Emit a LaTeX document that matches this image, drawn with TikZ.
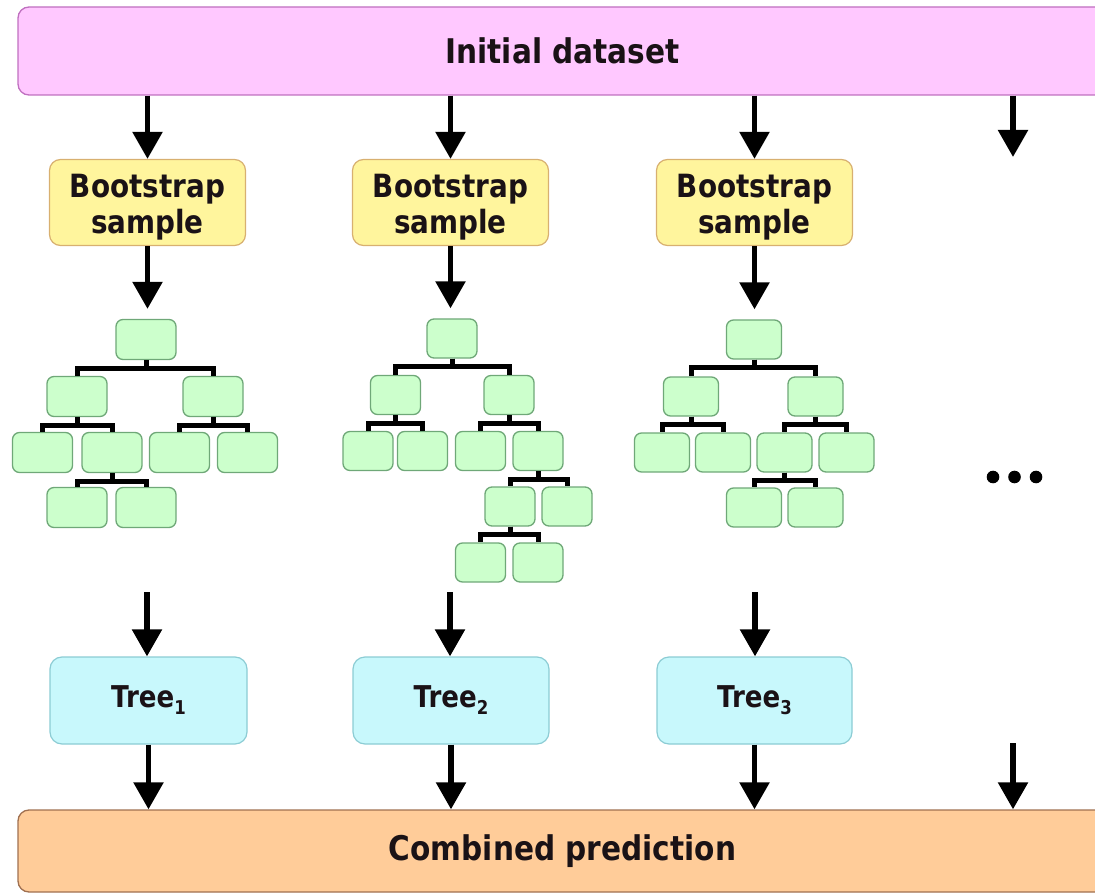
\documentclass[tikz,border=0pt]{standalone}
\usepackage{fontspec}
\newfontfamily\lab[FakeStretch=0.87]{DejaVu Sans Bold}
\usetikzlibrary{arrows.meta}

\definecolor{ink}{HTML}{1A1216}
\definecolor{pinkfill}{HTML}{FFC8FF}
\definecolor{pinkline}{HTML}{C070C0}
\definecolor{yelfill}{HTML}{FFF59D}
\definecolor{yelline}{HTML}{D8B070}
\definecolor{grnfill}{HTML}{CCFFCC}
\definecolor{grnline}{HTML}{6FA878}
\definecolor{cyanfill}{HTML}{C8F8FC}
\definecolor{cyanline}{HTML}{8CCCD4}
\definecolor{orgfill}{HTML}{FFCC99}
\definecolor{orgline}{HTML}{A07050}

% parent -> two children, drawn as an elbow bracket
\newcommand\treesplit[3]{%
  \draw[link] (#1.south) -- ++(0,8) -| (#2.north);
  \draw[link] (#1.south) -- ++(0,8) -| (#3.north);}
\newcommand\sub[1]{\raisebox{-7pt}{\fontsize{19}{19}\selectfont #1}}
\newcommand\bootlabel{\rule{0pt}{32pt}Bootstrap\\sample}

\begin{document}
\begin{tikzpicture}[x=1pt,y=-1pt,
  bar/.style={rounded corners=11pt, line width=1.3pt, minimum width=1089pt,
    inner sep=0pt, text=ink, font={\lab\fontsize{34}{40}\selectfont}},
  bootbox/.style={draw=yelline, fill=yelfill, rounded corners=11pt, line width=1.2pt,
    minimum width=196pt, minimum height=86pt, inner sep=0pt, align=center,
    text=ink, font={\lab\fontsize{32}{36}\selectfont}},
  treebox/.style={draw=cyanline, fill=cyanfill, rounded corners=12pt, line width=1.2pt,
    minimum height=87pt, inner sep=0pt, text=ink,
    font={\lab\fontsize{30}{34}\selectfont}},
  leaf/.style={draw=grnline, fill=grnfill, rounded corners=7pt, line width=1.3pt,
    inner sep=0pt},
  lA/.style={leaf, minimum width=60pt, minimum height=40pt},
  lB/.style={leaf, minimum width=50pt, minimum height=39pt},
  lC/.style={leaf, minimum width=55pt, minimum height=39pt},
  link/.style={line width=5pt, draw=black},
  arr/.style={line width=5.5pt, draw=black, -{Triangle[width=29pt,length=27pt]}},
  dot/.style={fill=black}
]
\useasboundingbox (0,0) rectangle (1095,893);
\clip (0,0) rectangle (1095,893);

% input and output bars
\node[bar, draw=pinkline, fill=pinkfill, minimum height=88pt] (top) at (562.5,51) {Initial dataset};
\node[bar, draw=orgline, fill=orgfill, minimum height=82pt] (bot) at (562.5,851) {Combined prediction};

% bootstrap samples
\node[bootbox] (bs1) at (147.5,202.5) {\bootlabel};
\node[bootbox] (bs2) at (450.5,202.5) {\bootlabel};
\node[bootbox] (bs3) at (754.5,202.5) {\bootlabel};

% fitted trees
\node[treebox, minimum width=197pt] (T1) at (148.5,700.5) {Tree\sub{1}};
\node[treebox, minimum width=196pt] (T2) at (451,700.5) {Tree\sub{2}};
\node[treebox, minimum width=195pt] (T3) at (754.5,700.5) {Tree\sub{3}};

% tree 1
\node[lA] (a0) at (146,339.5) {};
\node[lA] (a1) at (77,396.5) {};
\node[lA] (a2) at (213,396.5) {};
\node[lA] (a3) at (42.5,452.5) {};
\node[lA] (a4) at (112,452.5) {};
\node[lA] (a5) at (179.5,452.5) {};
\node[lA] (a6) at (247.5,452.5) {};
\node[lA] (a7) at (77,507.5) {};
\node[lA] (a8) at (146,507.5) {};
\treesplit{a0}{a1}{a2}
\treesplit{a1}{a3}{a4}
\treesplit{a2}{a5}{a6}
\treesplit{a4}{a7}{a8}

% tree 2
\node[lB] (b0) at (452,338.5) {};
\node[lB] (b1) at (395.5,395) {};
\node[lB] (b2) at (509,395) {};
\node[lB] (b3) at (368,451) {};
\node[lB] (b4) at (422.5,451) {};
\node[lB] (b5) at (480.5,451) {};
\node[lB] (b6) at (538,451) {};
\node[lB] (b7) at (510,506.5) {};
\node[lB] (b8) at (567,506.5) {};
\node[lB] (b9) at (480.5,562.5) {};
\node[lB] (b10) at (538,562.5) {};
\treesplit{b0}{b1}{b2}
\treesplit{b1}{b3}{b4}
\treesplit{b2}{b5}{b6}
\treesplit{b6}{b7}{b8}
\treesplit{b7}{b9}{b10}

% tree 3
\node[lC] (c0) at (754,339.5) {};
\node[lC] (c1) at (691,396.5) {};
\node[lC] (c2) at (815.5,396.5) {};
\node[lC] (c3) at (662,452.5) {};
\node[lC] (c4) at (723,452.5) {};
\node[lC] (c5) at (784.5,452.5) {};
\node[lC] (c6) at (846.5,452.5) {};
\node[lC] (c7) at (754,507.5) {};
\node[lC] (c8) at (815.5,507.5) {};
\treesplit{c0}{c1}{c2}
\treesplit{c1}{c3}{c4}
\treesplit{c2}{c5}{c6}
\treesplit{c5}{c7}{c8}

% flow arrows
\foreach \i/\r in {1/a0,2/b0,3/c0}{
  \draw[arr] (bs\i.north |- top.south) -- (bs\i.north);
  \draw[arr, shorten >=10pt] (bs\i.south) -- (bs\i.south |- \r.north);
  \draw[arr] (T\i.south) -- (T\i.south |- bot.north);
}
\coordinate (in1) at (147,592);
\coordinate (in2) at (450,592);
\coordinate (in3) at (755,592);
\foreach \i in {1,2,3}{
  \draw[arr] (in\i) -- (in\i |- T\i.north);
}

% further trees, elided
\coordinate (more) at (1013,157);
\coordinate (moreout) at (1013,743);
\draw[arr] (more |- top.south) -- (more);
\draw[arr] (moreout) -- (moreout |- bot.north);
\fill[dot] (993,477) circle (6.3);
\fill[dot] (1014.5,477) circle (6.3);
\fill[dot] (1036,477) circle (6.3);
\end{tikzpicture}
\end{document}
